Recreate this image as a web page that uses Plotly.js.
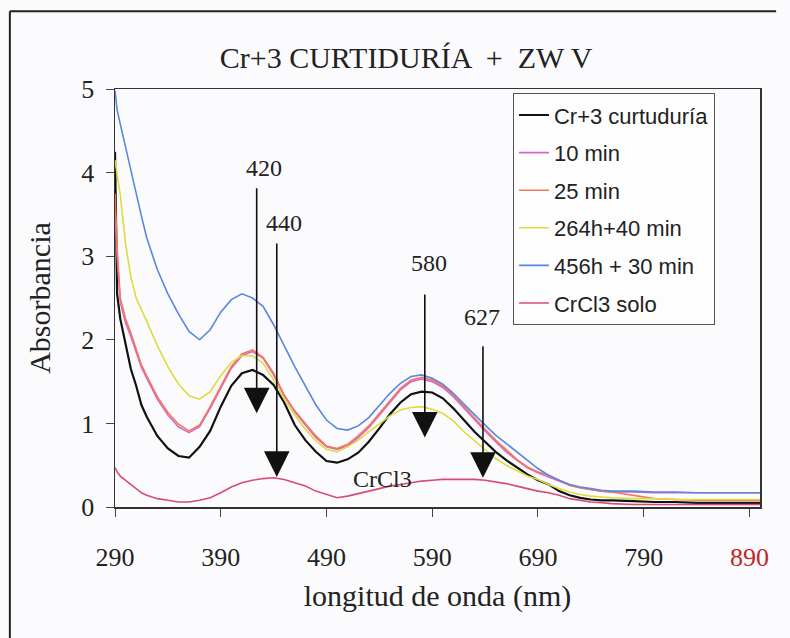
<!DOCTYPE html>
<html><head><meta charset="utf-8">
<script src="https://cdn.plot.ly/plotly-3.0.1.min.js"></script>
<style>html,body{margin:0;padding:0;background:#fbfbfd;}</style>
</head><body><div id="chart" style="width:790px;height:638px;"></div>
<script>
const wavelength = [290,292,295,300,305,310,315,320,330,340,350,360,370,380,390,400,410,420,430,440,450,460,470,480,490,500,510,520,530,540,550,560,570,580,590,600,610,620,630,640,650,660,670,680,690,700,710,720,730,740,750,760,780,800,820,840,860,880,900];

const crCurtiduria = [4.25,2.55,2.25,1.95,1.65,1.45,1.22,1.08,0.85,0.70,0.61,0.59,0.72,0.91,1.20,1.45,1.60,1.64,1.58,1.46,1.25,0.98,0.80,0.66,0.55,0.53,0.57,0.65,0.78,0.94,1.11,1.25,1.35,1.38,1.37,1.30,1.18,1.04,0.90,0.78,0.66,0.56,0.47,0.39,0.32,0.27,0.19,0.14,0.11,0.09,0.08,0.08,0.07,0.06,0.06,0.05,0.05,0.05,0.05];

const min10 = [3.55,3.00,2.45,2.20,2.04,1.85,1.67,1.54,1.29,1.10,0.96,0.89,0.96,1.18,1.43,1.66,1.81,1.86,1.78,1.58,1.33,1.14,0.98,0.83,0.72,0.69,0.73,0.83,0.95,1.10,1.26,1.40,1.50,1.53,1.50,1.43,1.32,1.18,1.04,0.91,0.78,0.66,0.56,0.47,0.41,0.36,0.31,0.26,0.23,0.21,0.19,0.18,0.18,0.17,0.17,0.17,0.17,0.17,0.17];

const min25 = [3.75,3.10,2.50,2.25,2.08,1.88,1.70,1.57,1.32,1.13,0.99,0.91,0.98,1.20,1.45,1.68,1.83,1.88,1.79,1.60,1.34,1.15,1.00,0.85,0.73,0.70,0.75,0.85,0.97,1.12,1.28,1.42,1.52,1.55,1.52,1.45,1.34,1.20,1.06,0.93,0.80,0.68,0.57,0.48,0.42,0.38,0.32,0.26,0.23,0.21,0.19,0.18,0.14,0.10,0.09,0.08,0.08,0.08,0.08];

const h264min40 = [4.15,4.00,3.73,3.15,2.75,2.50,2.35,2.22,1.93,1.68,1.47,1.33,1.29,1.38,1.57,1.73,1.81,1.81,1.72,1.52,1.29,1.10,0.93,0.79,0.69,0.66,0.72,0.80,0.90,1.00,1.09,1.16,1.19,1.20,1.17,1.12,1.03,0.90,0.79,0.68,0.58,0.50,0.43,0.37,0.33,0.27,0.22,0.18,0.15,0.13,0.12,0.11,0.10,0.10,0.09,0.09,0.09,0.09,0.09];

const h456min30 = [4.98,4.75,4.58,4.30,4.02,3.75,3.48,3.22,2.84,2.55,2.31,2.10,2.00,2.12,2.33,2.48,2.55,2.50,2.40,2.18,1.92,1.68,1.45,1.22,1.04,0.94,0.92,0.97,1.07,1.22,1.36,1.48,1.56,1.58,1.54,1.47,1.36,1.23,1.10,0.98,0.86,0.76,0.65,0.55,0.46,0.38,0.32,0.27,0.24,0.22,0.20,0.19,0.19,0.18,0.18,0.17,0.17,0.17,0.17];

const crcl3Solo = [0.47,0.42,0.37,0.32,0.26,0.21,0.17,0.14,0.10,0.08,0.06,0.06,0.08,0.11,0.17,0.24,0.29,0.32,0.34,0.35,0.33,0.29,0.25,0.19,0.15,0.11,0.13,0.16,0.19,0.22,0.25,0.27,0.29,0.31,0.32,0.33,0.33,0.33,0.33,0.32,0.30,0.28,0.25,0.22,0.19,0.17,0.14,0.10,0.08,0.06,0.05,0.04,0.03,0.03,0.03,0.03,0.03,0.03,0.03];

const seriesNames = ['Cr+3 curtuduría','10 min','25 min','264h+40 min','456h + 30 min','CrCl3 solo'];
const seriesValues = [crCurtiduria, min10, min25, h264min40, h456min30, crcl3Solo];
const seriesColors = ['#111111','#d866c8','#f2785a','#dcdc3c','#5a86e0','#d84a7a'];
const seriesWidths = [2.2,1.6,1.6,1.6,1.6,1.6];

const xTickVals = [290,390,490,590,690,790,890];
const xTickText = ['290','390','490','590','690','790','<span style="fill:#c0272d">890</span>'];
const yTickVals = [0,1,2,3,4,5];

const peakLabels = ['420','440','580','627'];
const peakLabelX = [431,450,587,637];
const peakLabelY = [4.06,3.40,2.92,2.27];
const arrowX = [424,443,583,638];
const arrowTail = [3.83,3.17,2.56,1.94];
const arrowTip = [1.12,0.36,0.83,0.35];

const traces = seriesNames.map((n,i)=>({
  x: wavelength, y: seriesValues[i], type:'scatter', mode:'lines', name:n,
  legendgroup:'g'+i,
  line:{color:seriesColors[i], width:seriesWidths[i]}
}));

const serif = 'Liberation Serif, Times New Roman, serif';
const annotations = [];
peakLabels.forEach((t,i)=>{
  annotations.push({x:peakLabelX[i], y:peakLabelY[i], xref:'x', yref:'y', text:t, showarrow:false,
    font:{family:serif, size:24, color:'#222'}});
  annotations.push({x:arrowX[i], y:arrowTip[i], ax:arrowX[i], ay:arrowTail[i], axref:'x', ayref:'y',
    xref:'x', yref:'y', text:'', showarrow:true, arrowhead:2, arrowsize:3.2, arrowwidth:1.6, arrowcolor:'#111'});
});
annotations.push({x:543, y:0.335, xref:'x', yref:'y', text:'CrCl3', showarrow:false,
  font:{family:serif, size:24, color:'#222'}});

const layout = {
  width:790, height:638,
  margin:{l:115, r:30, t:89, b:131},
  paper_bgcolor:'#fbfbfd', plot_bgcolor:'#fbfbfd',
  title:{text:'Cr+3 CURTIDURÍA  +  ZW V', x:0.514, xref:'container', y:0.91, yanchor:'middle',
    font:{family:serif, size:30, color:'#222'}},
  showlegend:true,
  legend:{x:0.617, y:0.99, xanchor:'left', yanchor:'top', bgcolor:'rgba(255,255,255,0.6)',
    bordercolor:'#555', borderwidth:1, tracegroupgap:6,
    font:{family:'Liberation Sans, Arial, sans-serif', size:22, color:'#222'}},
  xaxis:{range:[290,900], tickvals:xTickVals, ticktext:xTickText, ticks:'outside', ticklen:8, tickcolor:'#444',
    showline:true, linecolor:'#333', linewidth:1.5, mirror:true, showgrid:false, zeroline:false,
    ticklabelstandoff:18,
    tickfont:{family:serif, size:26, color:'#222'},
    title:{text:'longitud de onda (nm)', standoff:14, font:{family:serif, size:30, color:'#222'}}},
  yaxis:{range:[0,5], tickvals:yTickVals, ticks:'outside', ticklen:8, tickcolor:'#444',
    showline:true, linecolor:'#333', linewidth:1.5, mirror:true, showgrid:false, zeroline:false,
    ticklabelstandoff:6,
    tickfont:{family:serif, size:26, color:'#222'},
    title:{text:'Absorbancia', standoff:22, font:{family:serif, size:30, color:'#222'}}},
  annotations:annotations,
  shapes:[
    {type:'line', xref:'paper', yref:'paper', x0:-0.163, x1:1.025, y0:1.186, y1:1.186, line:{color:'#222', width:2}},
    {type:'line', xref:'paper', yref:'paper', x0:-0.163, x1:-0.163, y0:1.186, y1:-0.32, line:{color:'#222', width:2}}
  ]
};
Plotly.newPlot('chart', traces, layout, {staticPlot:true});
</script></body></html>
